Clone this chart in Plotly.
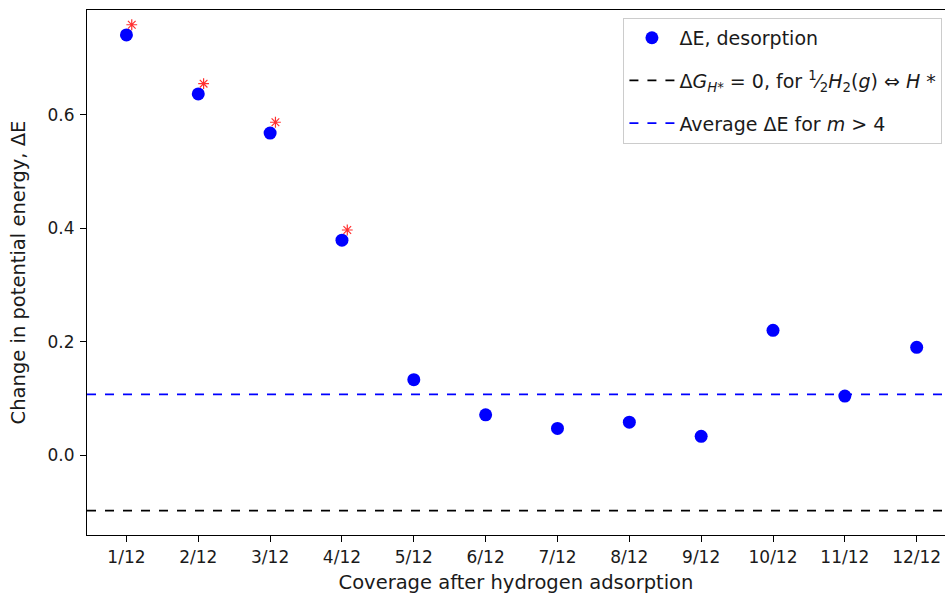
import plotly.graph_objects as go

# ---- data ----
coverage_labels = ["1/12", "2/12", "3/12", "4/12", "5/12", "6/12",
                   "7/12", "8/12", "9/12", "10/12", "11/12", "12/12"]
m_index = [1, 2, 3, 4, 5, 6, 7, 8, 9, 10, 11, 12]
delta_E = [0.741, 0.637, 0.568, 0.379, 0.133, 0.071, 0.047, 0.058, 0.033, 0.220, 0.104, 0.190]
flagged_m = [1, 2, 3, 4]
flagged_E = [0.759, 0.655, 0.587, 0.397]
dG_zero_level = -0.098
avg_high_m = sum(delta_E[4:]) / len(delta_E[4:])

x_range = [0.451, 12.394]
y_range = [-0.141, 0.785]
y_ticks = [0.0, 0.2, 0.4, 0.6]

FONT = "DejaVu Sans"

fig = go.Figure()

fig.add_trace(go.Scatter(
    x=m_index, y=delta_E, mode="markers",
    marker=dict(color="blue", size=13),
    name="ΔE, desorption", legendgroup="a",
))
fig.add_trace(go.Scatter(
    x=[x + 0.074 for x in flagged_m], y=flagged_E, mode="markers",
    marker=dict(symbol="asterisk", size=9, line=dict(color="#ff3030", width=1.2), color="#ff3030"),
    showlegend=False, hoverinfo="skip",
))
fig.add_trace(go.Scatter(
    x=x_range, y=[dG_zero_level, dG_zero_level], mode="lines",
    line=dict(color="black", width=1.8, dash="dash"),
    name="Δ<i>G</i><sub><i>H*</i></sub> = 0, for <sup>1</sup>⁄<sub>2</sub><i>H</i><sub>2</sub>(<i>g</i>) ⇔ <i>H</i> *",
    legendgroup="b",
))
fig.add_trace(go.Scatter(
    x=x_range, y=[avg_high_m, avg_high_m], mode="lines",
    line=dict(color="blue", width=1.8, dash="dash"),
    name="Average ΔE for <i>m</i> > 4", legendgroup="c",
))

fig.update_layout(
    width=945, height=595,
    margin=dict(l=87, r=0, t=10, b=60),
    plot_bgcolor="white", paper_bgcolor="white",
    font=dict(family=FONT, size=17, color="#1a1a1a"),
    showlegend=True,
    legend=dict(
        x=0.997, xanchor="right", y=0.985, yanchor="top",
        bordercolor="#cccccc", borderwidth=1, bgcolor="white",
        font=dict(family=FONT, size=19, color="#1a1a1a"),
        tracegroupgap=15, itemwidth=45,
    ),
    xaxis=dict(
        range=x_range, tickmode="array", tickvals=m_index, ticktext=coverage_labels,
        showline=True, linecolor="black", linewidth=1.2, mirror=True,
        ticks="outside", ticklen=6, tickcolor="black", showgrid=False, zeroline=False,
        automargin=False, tickfont=dict(size=17),
        title=dict(text="Coverage after hydrogen adsorption", font=dict(size=19.5), standoff=9),
    ),
    yaxis=dict(
        range=y_range, tickmode="array", tickvals=y_ticks, tickformat=".1f",
        showline=True, linecolor="black", linewidth=1.2,
        ticks="outside", ticklen=6, tickcolor="black", showgrid=False, zeroline=False,
        automargin=False, tickfont=dict(size=17), ticklabelstandoff=2,
        title=dict(text="Change in potential energy, ΔE", font=dict(size=19.5), standoff=16),
    ),
)

fig.write_html("out.html")
